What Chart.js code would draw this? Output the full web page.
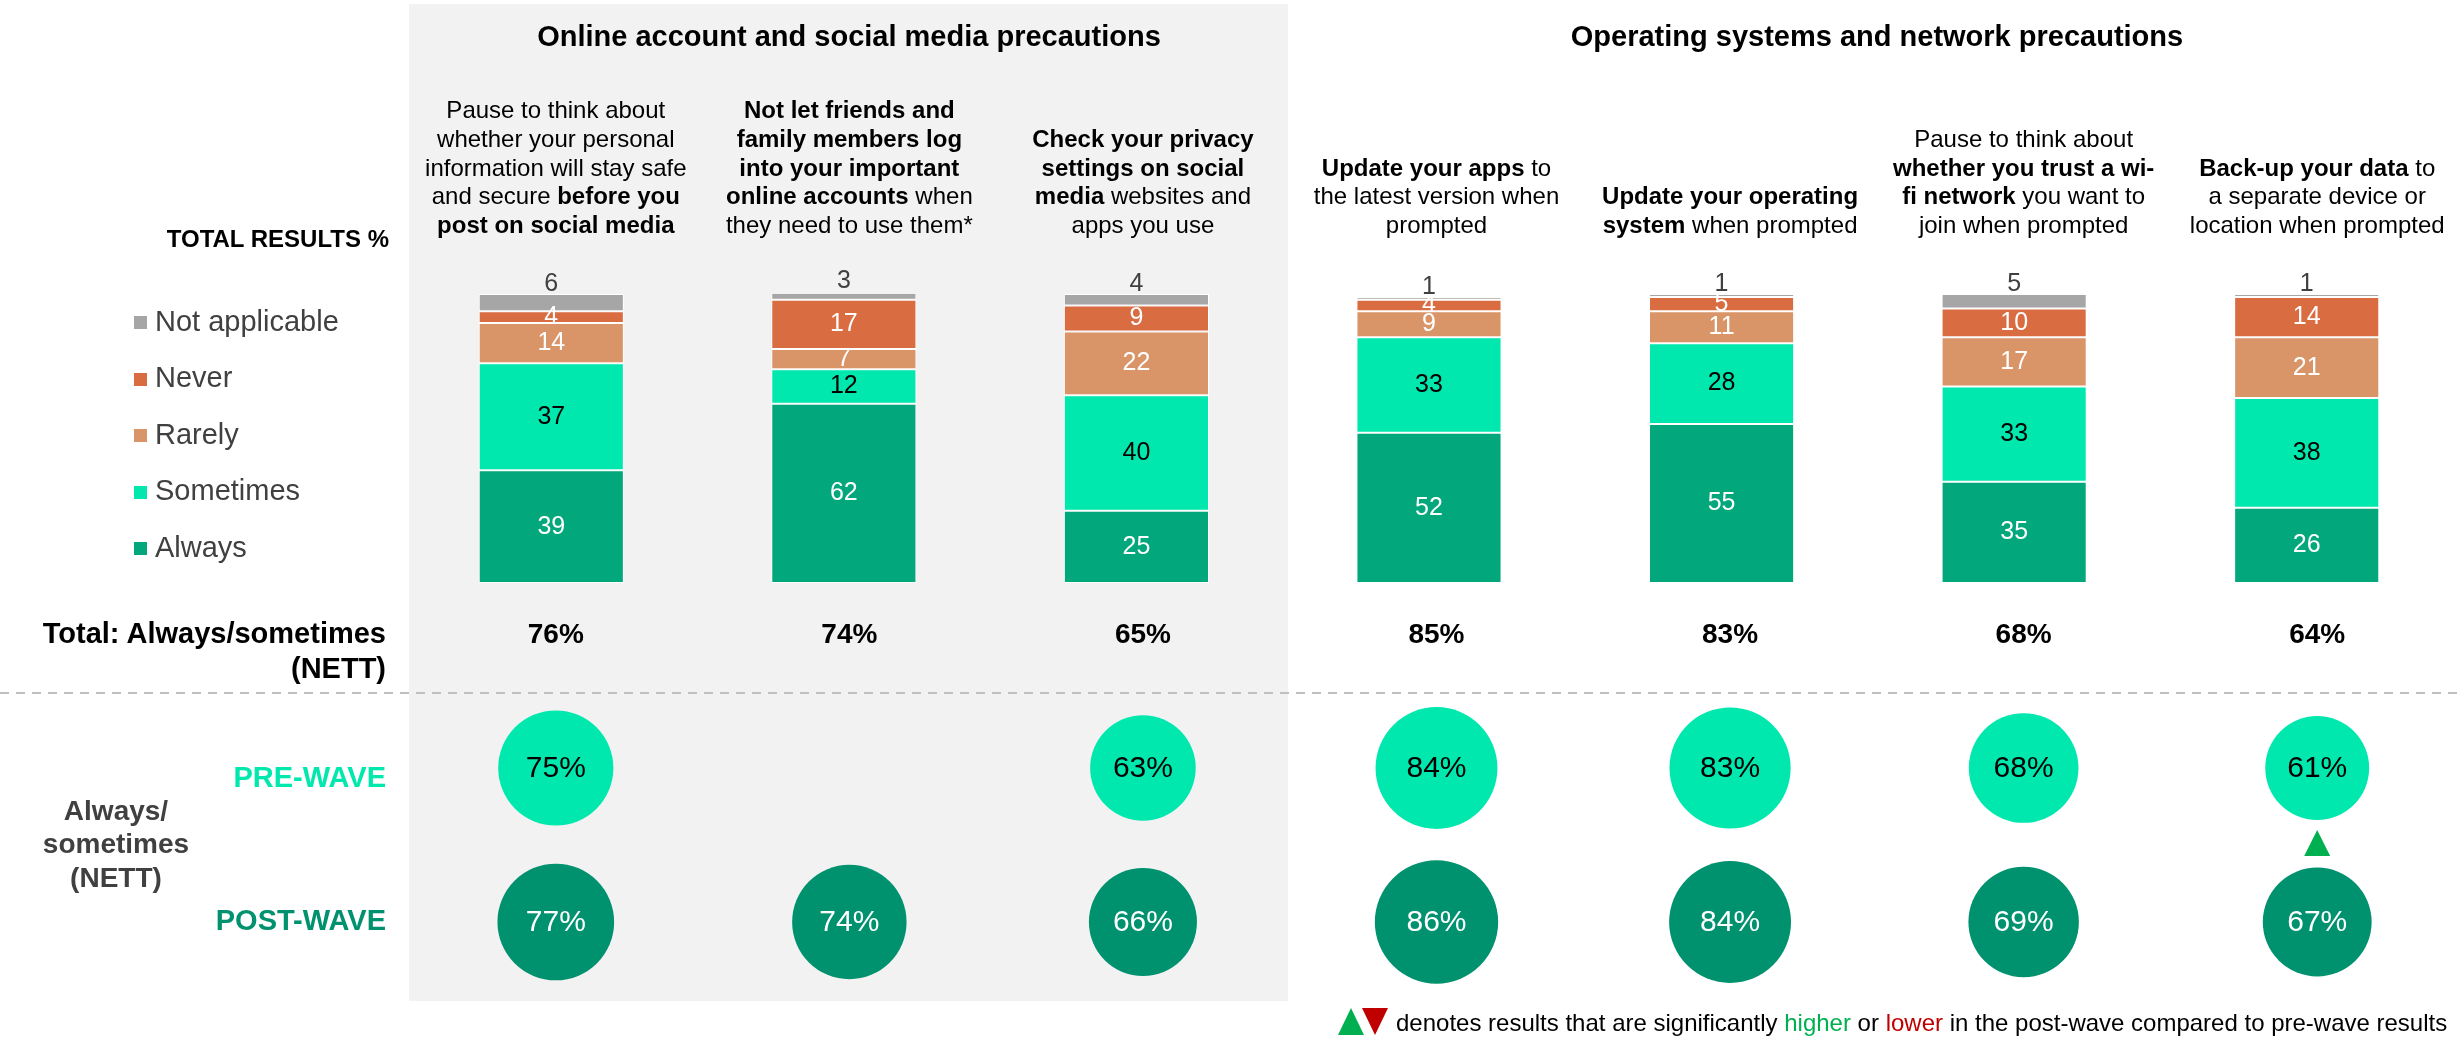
<!DOCTYPE html>
<html>
<head>
<meta charset="utf-8">
<title>Online safety precautions</title>
<script src="https://cdn.jsdelivr.net/npm/chart.js@4.4.1/dist/chart.umd.min.js"></script>
<style>
  html, body { margin: 0; padding: 0; background: #fff; overflow: hidden; }
  body { position: relative; width: 2459px; height: 1045px; font-family: "Liberation Sans", Arial, sans-serif; }
  .abs { position: absolute; line-height: 1; white-space: nowrap; }
  .bold { font-weight: bold; }
  #panel { position: absolute; left: 409px; top: 4px; width: 879px; height: 997px; background: #f2f2f2; }
  #divider { position: absolute; left: 0; top: 692px; width: 2459px; height: 2px;
             background: repeating-linear-gradient(to right, #bfbfbf 0 9px, transparent 9px 16px); }
  canvas { position: absolute; left: 0; top: 0; }
  .swatch { position: absolute; width: 13px; height: 13px; }
  .tri { position: absolute; width: 0; height: 0; border-left: 13px solid transparent; border-right: 13px solid transparent; }
  .tri.up { border-bottom: 27px solid #00B050; }
  .tri.down { border-top: 27px solid #C00000; }
</style>
</head>
<body>
<div id="panel"></div>
<div id="divider"></div>
<canvas id="bars" width="2459" height="1045"></canvas>
<canvas id="waves" width="2534" height="1045"></canvas>

<div class="abs bold" style="left:349px; top:21.5px; width:1000px; text-align:center; font-size:29px;">Online account and social media precautions</div>
<div class="abs bold" style="left:1377px; top:21.5px; width:1000px; text-align:center; font-size:29px;">Operating systems and network precautions</div>
<div class="abs bold" style="left:0; top:226.7px; width:389px; text-align:right; font-size:24px;">TOTAL RESULTS %</div>
<div id="legend"></div>
<div class="abs bold" style="left:0; top:615.5px; width:386px; text-align:right; font-size:29px; line-height:35px;">Total: Always/sometimes<br>(NETT)</div>
<div class="abs bold" style="left:0; top:793.5px; width:232px; text-align:center; font-size:28px; line-height:33.5px; color:#404040;">Always/<br>sometimes<br>(NETT)</div>
<div class="abs bold" style="left:0; top:762.5px; width:386px; text-align:right; font-size:29px; color:#00E8AE;">PRE-WAVE</div>
<div class="abs bold" style="left:0; top:905.5px; width:386px; text-align:right; font-size:29px; color:#00916E;">POST-WAVE</div>
<div class="tri up" style="left:1338px; top:1008px;"></div>
<div class="tri down" style="left:1362px; top:1008px;"></div>
<div class="abs" style="left:1396px; top:1010.7px; font-size:24px;">denotes results that are significantly <span style="color:#00B050">higher</span> or <span style="color:#C00000">lower</span> in the post-wave compared to pre-wave results</div>

<script>
// column headings, ** marks bold runs, \n breaks lines
const categories = [
  'Pause to think about\nwhether your personal\ninformation will stay safe\nand secure **before you**\n**post on social media**',
  '**Not let friends and**\n**family members log**\n**into your important**\n**online accounts** when\nthey need to use them*',
  '**Check your privacy**\n**settings on social**\n**media** websites and\napps you use',
  '**Update your apps** to\nthe latest version when\nprompted',
  '**Update your operating**\n**system** when prompted',
  'Pause to think about\n**whether you trust a wi-**\n**fi network** you want to\njoin when prompted',
  '**Back-up your data** to\na separate device or\nlocation when prompted'
];

const always        = [39, 62, 25, 52, 55, 35, 26];
const sometimes     = [37, 12, 40, 33, 28, 33, 38];
const rarely        = [14,  7, 22,  9, 11, 17, 21];
const never         = [ 4, 17,  9,  4,  5, 10, 14];
const notApplicable = [ 6,  3,  4,  1,  1,  5,  1];

const nettTotal = [76, 74, 65, 85, 83, 68, 64];
const preWave   = [75, null, 63, 84, 83, 68, 61];
const postWave  = [77, 74, 66, 86, 84, 69, 67];
// 1 = post-wave significantly higher, -1 = significantly lower
const significance = [0, 0, 0, 0, 0, 0, 1];

const FONT = '"Liberation Sans", Arial, sans-serif';

const series = [
  { label: 'Always',         data: always,        color: '#02A77B', text: '#ffffff' },
  { label: 'Sometimes',      data: sometimes,     color: '#00E8AE', text: '#000000' },
  { label: 'Rarely',         data: rarely,        color: '#D99468', text: '#ffffff' },
  { label: 'Never',          data: never,         color: '#DA6C41', text: '#ffffff' },
  { label: 'Not applicable', data: notApplicable, color: '#A6A6A6', text: '#404040' }
];

// legend, top item is the top of the stack
const legendBox = document.getElementById('legend');
series.slice().reverse().forEach((s, k) => {
  const base = 331 + 56.5 * k;
  const sw = document.createElement('div');
  sw.className = 'swatch';
  sw.style.cssText = `left:134px; top:${base - 15}px; background:${s.color};`;
  const tx = document.createElement('div');
  tx.className = 'abs';
  tx.style.cssText = `left:155px; top:${base - 24.5}px; font-size:29px; color:#404040;`;
  tx.textContent = s.label;
  legendBox.appendChild(sw);
  legendBox.appendChild(tx);
});

const segmentLabels = {
  id: 'segmentLabels',
  afterDatasetsDraw(chart) {
    const ctx = chart.ctx;
    ctx.save();
    ctx.font = '25px ' + FONT;
    ctx.textAlign = 'center';
    chart.data.datasets.forEach((ds, d) => {
      chart.getDatasetMeta(d).data.forEach((bar, i) => {
        const v = ds.data[i];
        ctx.fillStyle = ds.labelColor;
        if (ds.label === 'Not applicable') {
          ctx.textBaseline = 'alphabetic';
          ctx.fillText(v, bar.x, bar.y - 3);
        } else {
          ctx.textBaseline = 'middle';
          ctx.fillText(v, bar.x, (bar.y + bar.base) / 2);
        }
      });
    });
    ctx.restore();
  }
};

new Chart(document.getElementById('bars'), {
  type: 'bar',
  data: {
    labels: categories,
    datasets: series.map(s => ({
      label: s.label,
      data: s.data,
      backgroundColor: s.color,
      labelColor: s.text
    }))
  },
  options: {
    responsive: false,
    animation: false,
    events: [],
    layout: { padding: { left: 405, right: 6, top: 294, bottom: 462 } },
    datasets: {
      bar: { categoryPercentage: 1, barPercentage: 0.496, borderColor: '#ffffff', borderWidth: 1, borderSkipped: false }
    },
    plugins: { legend: { display: false }, tooltip: { enabled: false } },
    scales: {
      x: { stacked: true, display: false },
      y: { stacked: true, display: false, min: 0, max: 100 }
    }
  },
  plugins: [segmentLabels]
});

function drawRichLine(ctx, line, cx, y) {
  const runs = line.split('**').map((t, k) => ({ t, bold: k % 2 === 1 })).filter(r => r.t);
  const fontFor = b => (b ? 'bold ' : '') + '24px ' + FONT;
  let w = 0;
  runs.forEach(r => { ctx.font = fontFor(r.bold); r.w = ctx.measureText(r.t).width; w += r.w; });
  let x = cx - w / 2;
  runs.forEach(r => { ctx.font = fontFor(r.bold); ctx.fillText(r.t, x, y); x += r.w; });
}

const columnText = {
  id: 'columnText',
  afterDraw(chart) {
    const ctx = chart.ctx;
    const xs = chart.scales.x;
    const ys = chart.scales.y;
    ctx.save();
    ctx.fillStyle = '#000';
    ctx.textAlign = 'left';
    ctx.textBaseline = 'alphabetic';
    categories.forEach((c, i) => {
      const lines = c.split('\n');
      const cx = xs.getPixelForValue(i);
      lines.forEach((ln, j) => drawRichLine(ctx, ln, cx, 233 - 28.75 * (lines.length - 1 - j)));
    });

    ctx.textAlign = 'center';
    ctx.font = 'bold 28px ' + FONT;
    nettTotal.forEach((v, i) => ctx.fillText(v + '%', xs.getPixelForValue(i), 643));

    ctx.font = '30px ' + FONT;
    ctx.textBaseline = 'middle';
    chart.data.datasets.forEach((ds, d) => {
      chart.getDatasetMeta(d).data.forEach((pt, i) => {
        ctx.fillStyle = ds.textColor;
        ctx.fillText(ds.data[i].v + '%', pt.x, pt.y + 1);
      });
    });

    const mid = ys.getPixelForValue(0.5) - 2;
    significance.forEach((s, i) => {
      if (!s) return;
      const x = xs.getPixelForValue(i);
      ctx.fillStyle = s > 0 ? '#00B050' : '#C00000';
      ctx.beginPath();
      if (s > 0) {
        ctx.moveTo(x, mid - 13); ctx.lineTo(x + 13, mid + 13); ctx.lineTo(x - 13, mid + 13);
      } else {
        ctx.moveTo(x, mid + 13); ctx.lineTo(x + 13, mid - 13); ctx.lineTo(x - 13, mid - 13);
      }
      ctx.closePath();
      ctx.fill();
    });
    ctx.restore();
  }
};

// circle area is proportional to the percentage
const bubbleRadius = v => 6.65 * Math.sqrt(v);
const toBubbles = (vals, row) => vals
  .map((v, i) => (v == null ? null : { x: i, y: row, r: bubbleRadius(v), v }))
  .filter(p => p);

new Chart(document.getElementById('waves'), {
  type: 'bubble',
  data: {
    datasets: [
      { label: 'Pre-wave', data: toBubbles(preWave, 1), backgroundColor: '#00E8AE', textColor: '#000000', clip: false },
      { label: 'Post-wave', data: toBubbles(postWave, 0), backgroundColor: '#00916E', textColor: '#ffffff', clip: false }
    ]
  },
  options: {
    responsive: false,
    animation: false,
    events: [],
    layout: { padding: { left: 409, right: 70, top: 768, bottom: 123 } },
    elements: { point: { borderWidth: 0, hoverBorderWidth: 0 } },
    plugins: { legend: { display: false }, tooltip: { enabled: false } },
    scales: {
      x: { type: 'linear', min: -0.5, max: 6.5, display: false },
      y: { type: 'linear', min: 0, max: 1, display: false }
    }
  },
  plugins: [columnText]
});
</script>
</body>
</html>
